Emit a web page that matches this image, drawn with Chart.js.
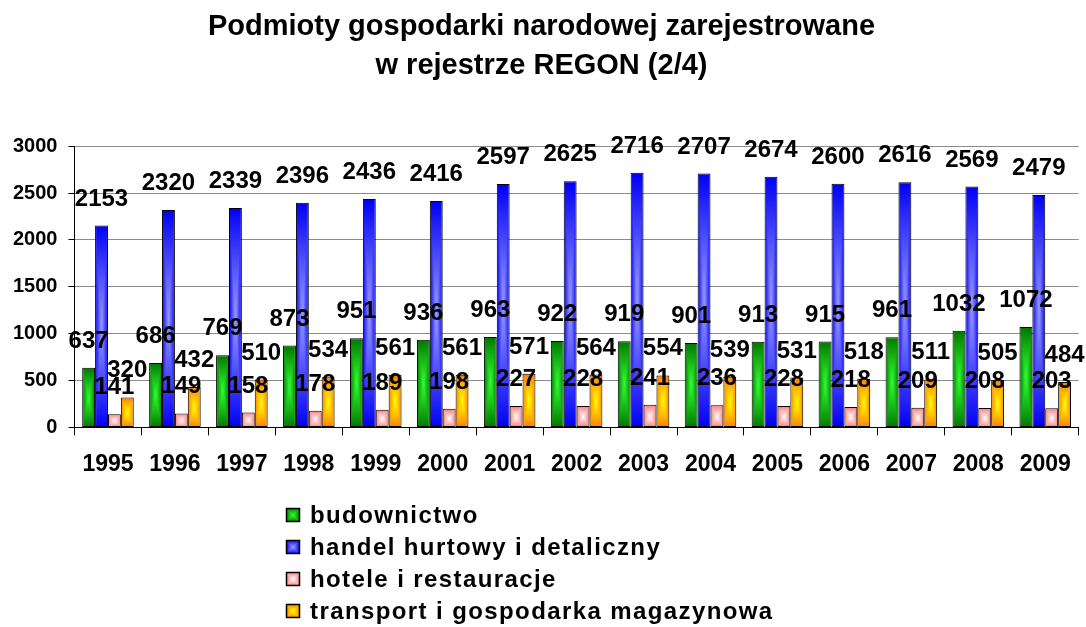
<!DOCTYPE html>
<html>
<head>
<meta charset="utf-8">
<script src="https://cdn.jsdelivr.net/npm/chart.js@4.4.1/dist/chart.umd.min.js"></script>
<style>
html,body{margin:0;padding:0;background:#fff;}
#wrap{width:1086px;height:627px;}
</style>
</head>
<body>
<div id="wrap"><canvas id="c" width="1086" height="627"></canvas></div>
<script>
// ---- data ----
const years = ['1995','1996','1997','1998','1999','2000','2001','2002','2003','2004','2005','2006','2007','2008','2009'];
const budownictwo = [637, 686, 769, 873, 951, 936, 963, 922, 919, 901, 913, 915, 961, 1032, 1072];
const handel      = [2153, 2320, 2339, 2396, 2436, 2416, 2597, 2625, 2716, 2707, 2674, 2600, 2616, 2569, 2479];
const hotele      = [141, 149, 158, 178, 189, 198, 227, 228, 241, 236, 228, 218, 209, 208, 203];
const transport   = [320, 432, 510, 534, 561, 561, 571, 564, 554, 539, 531, 518, 511, 505, 484];
const seriesNames = ['budownictwo', 'handel hurtowy i detaliczny', 'hotele i restauracje', 'transport i gospodarka magazynowa'];
const yMin = 0, yMax = 3000, yStep = 500;
const titleLines = ['Podmioty gospodarki narodowej zarejestrowane', 'w rejestrze REGON (2/4)'];

// ---- styles ----
const FAMILY = '"Liberation Sans", Arial, Helvetica, sans-serif';
const palettes = [
  {center:[50,255,50],   edge:[0,120,0],     flat:'#00a000'},
  {center:[155,155,255], edge:[0,0,245],     flat:'#4040ff'},
  {center:[255,255,255], edge:[255,120,120], flat:'#ffb0b0'},
  {center:[255,255,0],   edge:[255,125,0],   flat:'#ffb000'}
];

function makeGradCanvas(w, h, pal){
  const W = Math.max(1, Math.ceil(w)), H = Math.max(1, Math.ceil(h));
  const c = document.createElement('canvas'); c.width = W; c.height = H;
  const g = c.getContext('2d'); const img = g.createImageData(W, H);
  for (let y = 0; y < H; y++) {
    for (let x = 0; x < W; x++) {
      const dx = Math.abs((x + 0.5) / W * 2 - 1);
      const dy = Math.abs((y + 0.5) / H * 2 - 1);
      const t = Math.max(dx, dy);
      const i = (y * W + x) * 4;
      for (let k = 0; k < 3; k++) img.data[i + k] = Math.round(pal.center[k] + (pal.edge[k] - pal.center[k]) * t);
      img.data[i + 3] = 255;
    }
  }
  g.putImageData(img, 0, 0);
  return c;
}

const gradientBars = {
  id: 'gradientBars',
  beforeDatasetsDraw(chart){
    chart.data.datasets.forEach((ds, di) => {
      const meta = chart.getDatasetMeta(di);
      meta.data.forEach(el => {
        const left = el.x - el.width / 2;
        const top = Math.min(el.y, el.base);
        const h = Math.abs(el.base - el.y);
        const cv = makeGradCanvas(el.width, h, palettes[di]);
        const pat = chart.ctx.createPattern(cv, 'no-repeat');
        pat.setTransform(new DOMMatrix([1, 0, 0, 1, left, top]));
        el.options = Object.assign({}, el.options, {backgroundColor: pat});
      });
    });
  }
};

const valueLabels = {
  id: 'valueLabels',
  afterDatasetsDraw(chart){
    const ctx = chart.ctx;
    ctx.save();
    ctx.font = 'bold 24px ' + FAMILY;
    ctx.fillStyle = '#000';
    ctx.textAlign = 'center';
    ctx.textBaseline = 'alphabetic';
    chart.data.datasets.forEach((ds, di) => {
      chart.getDatasetMeta(di).data.forEach((el, i) => {
        ctx.fillText(String(ds.data[i]), el.x, el.y - 20);
      });
    });
    ctx.restore();
  }
};

const listLegend = {
  id: 'listLegend',
  afterDraw(chart, args, opts){
    const ctx = chart.ctx;
    const startY = chart.scales.x.bottom + opts.offsetY;
    ctx.save();
    ctx.font = 'bold 24px ' + FAMILY;
    try { ctx.letterSpacing = '1.4px'; } catch(e) {}
    ctx.textAlign = 'left';
    ctx.textBaseline = 'middle';
    chart.data.datasets.forEach((ds, di) => {
      const cy = startY + di * opts.rowGap;
      const s = opts.box;
      const bx = opts.left, by = Math.round(cy - s / 2);
      const cv = makeGradCanvas(s, s, palettes[di]);
      ctx.drawImage(cv, bx, by);
      ctx.strokeStyle = '#000'; ctx.lineWidth = 1.5;
      ctx.strokeRect(bx + 0.5, by + 0.5, s - 1, s - 1);
      ctx.fillStyle = '#000';
      ctx.fillText(ds.label, bx + opts.textGap, cy + 1);
    });
    ctx.restore();
  }
};

const seriesData = [budownictwo, handel, hotele, transport];

new Chart(document.getElementById('c'), {
  type: 'bar',
  data: {
    labels: years,
    datasets: seriesData.map((d, i) => ({
      label: seriesNames[i],
      data: d,
      backgroundColor: palettes[i].flat,
      borderColor: '#000',
      borderWidth: 1,
      borderSkipped: false,
      categoryPercentage: 0.77,
      barPercentage: 1.0
    }))
  },
  options: {
    responsive: false,
    animation: false,
    devicePixelRatio: 1,
    layout: {padding: {left: 2, right: 5, top: 0, bottom: 134}},
    plugins: {
      legend: {display: false},
      tooltip: {enabled: false},
      title: {
        display: true,
        text: titleLines,
        color: '#000',
        font: {family: FAMILY, size: 29, weight: 'bold', lineHeight: 1.33},
        padding: {top: 8, bottom: 61}
      },
      listLegend: {offsetY: 22, rowGap: 32, left: 286, box: 14, textGap: 24}
    },
    scales: {
      x: {
        offset: true,
        grid: {display: true, offset: true, drawOnChartArea: false, drawTicks: true, tickLength: 8, color: '#000', lineWidth: 1},
        border: {display: true, color: '#000', width: 1},
        ticks: {color: '#000', font: {family: FAMILY, size: 23, weight: 'bold'}, padding: 15, maxRotation: 0, autoSkip: false}
      },
      y: {
        min: yMin, max: yMax,
        ticks: {stepSize: yStep, color: '#000', font: {family: FAMILY, size: 20, weight: 'bold'}, padding: 11,
                callback: v => String(v)},
        grid: {
          color: c => (c.tick && c.tick.value === 0) ? '#000' : '#8c8c8c',
          tickColor: '#000', tickLength: 6, drawTicks: true, lineWidth: 1
        },
        border: {display: true, color: '#000', width: 1}
      }
    }
  },
  plugins: [gradientBars, valueLabels, listLegend]
});
</script>
</body>
</html>
